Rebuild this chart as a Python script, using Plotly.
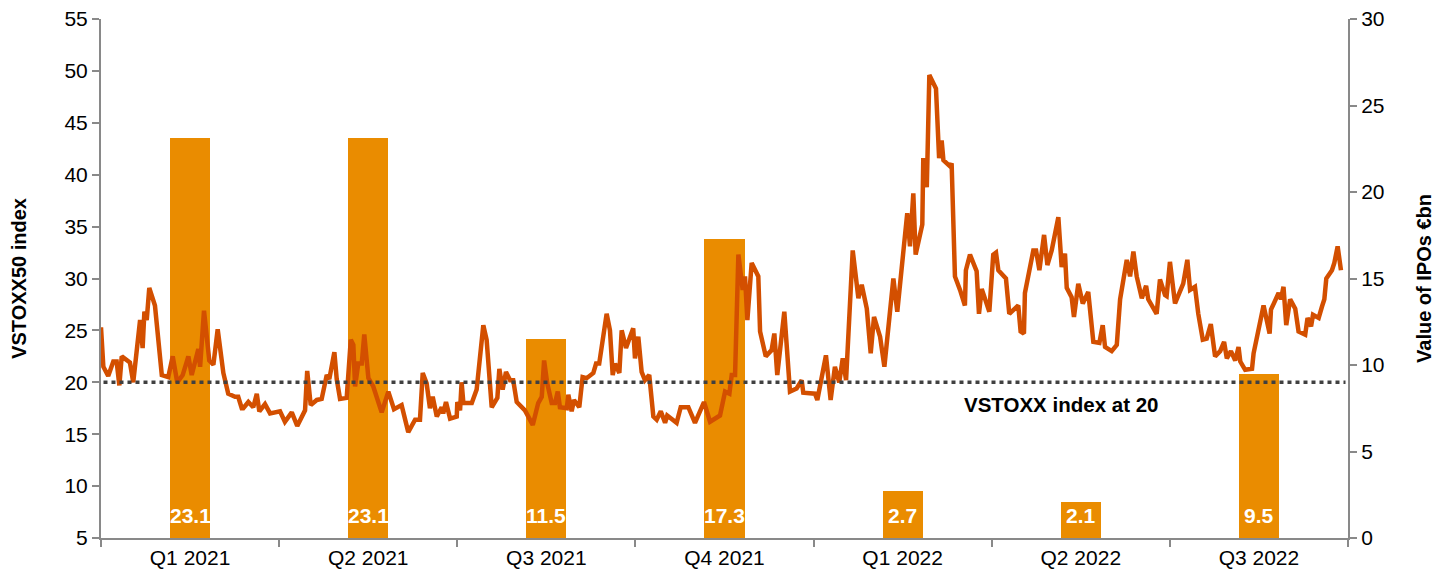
import pandas as pd
import plotly.graph_objects as go

# ---- data ----
quarters = ["Q1 2021", "Q2 2021", "Q3 2021", "Q4 2021", "Q1 2022", "Q2 2022", "Q3 2022"]
ipo_values = [23.1, 23.1, 11.5, 17.3, 2.7, 2.1, 9.5]

# VSTOXX50 observations: days since 2021-01-01 and index level
vstoxx_days = [
    0, 1.2, 3.7, 6.3, 8.0, 9.4, 10.6, 14.8, 16.5, 20.0, 21.3, 22.2, 23.4, 24.7, 27.6,
    30.2, 31.1, 34.4, 36.7, 39.0, 41.8, 44.7, 46.4, 49.8, 50.7, 52.7, 54.4, 55.4, 57.5,
    59.7, 62.6, 65.1, 68.6, 70.2, 72.0, 72.8, 75.4, 77.9, 79.7, 81.0, 83.9, 86.5, 91.6,
    94.1, 97.6, 100.4, 104.4, 105.5, 107.3, 110.4, 112.9, 115.5, 116.8, 119.4, 120.6,
    122.3, 125.7, 127.8, 129.1, 130.0, 131.6, 133.4, 134.7, 136.8, 139.3, 143.6, 147.0,
    149.9, 153.8, 157.2, 160.7, 163.2, 164.6, 166.6, 168.3, 169.7, 171.8, 174.3, 175.1,
    176.5, 178.6, 182.0, 182.3, 183.7, 184.5, 185.4, 189.7, 192.2, 195.6, 197.3, 199.9,
    202.8, 203.8, 205.5, 207.2, 209.3, 210.9, 212.7, 216.9, 220.9, 223.7, 225.5, 226.7,
    228.3, 230.6, 232.3, 233.7, 234.8, 238.3, 239.1, 240.8, 242.0, 244.7, 246.4, 248.5,
    251.9, 253.3, 254.9, 258.7, 260.4, 261.8, 263.0, 265.2, 266.4, 268.6, 272.3, 273.2,
    274.9, 276.6, 278.3, 280.5, 282.6, 284.3, 286.4, 288.6, 289.7, 294.5, 296.6, 300.5,
    303.9, 308.5, 311.6, 316.7, 319.3, 321.5, 322.7, 324.4, 326.1, 328.3, 329.5, 330.7,
    332.9, 336.3, 337.2, 340.1, 343.1, 344.5, 346.0, 349.6, 352.5, 355.9, 358.5, 359.3,
    362.7, 365.3, 366.5, 370.9, 373.3, 375.5, 377.7, 379.5, 381.2, 384.6, 387.5, 389.2,
    391.8, 393.8, 395.5, 398.6, 400.8, 405.4, 407.4, 410.2, 412.5, 413.9, 415.6, 416.8,
    420.2, 420.7, 422.5, 423.8, 427.2, 428.8, 430.1, 431.0, 434.4, 435.2, 436.9, 439.5,
    442.0, 442.5, 444.6, 448.0, 449.2, 450.6, 454.5, 456.5, 457.9, 459.1, 463.0, 464.7,
    469.3, 470.5, 472.2, 472.7, 474.4, 477.0, 478.4, 480.1, 482.5, 484.2, 486.4, 489.8,
    491.5, 493.2, 494.1, 496.6, 497.8, 500.0, 502.3, 505.1, 507.7, 510.8, 512.5, 513.7,
    517.1, 519.7, 521.4, 524.8, 526.5, 528.2, 529.9, 532.5, 534.7, 535.8, 540.1, 541.8,
    544.4, 545.2, 546.9, 549.5, 553.7, 555.8, 557.2, 559.7, 561.4, 563.7, 565.7, 567.8,
    570.0, 572.6, 574.6, 576.0, 578.1, 580.3, 582.0, 582.9, 585.4, 588.9, 589.7, 591.8,
    594.8, 597.9, 598.6, 602.5, 603.7, 605.0, 606.4, 608.4, 611.0, 612.7, 616.1, 617.3,
    619.1, 620.1, 623.0, 624.7, 625.9, 626.9, 629.8, 631.0, 632.7, 634.4,
]
vstoxx_values = [
    25.3, 21.5, 20.6, 22.0, 22.0, 19.7, 22.5, 21.9, 20.0, 26.0, 23.3, 26.8, 26.0, 29.1, 27.4,
    22.1, 20.7, 20.5, 22.5, 20.0, 20.7, 22.5, 20.7, 23.2, 21.5, 26.9, 24.1, 22.1, 21.7,
    25.1, 20.9, 18.9, 18.6, 18.6, 17.5, 17.5, 18.1, 17.6, 18.9, 17.2, 17.9, 17.0, 17.2,
    16.2, 17.1, 15.8, 17.3, 21.1, 17.8, 18.3, 18.4, 20.7, 20.3, 22.9, 20.3,
    18.4, 18.5, 24.1, 23.6, 19.6, 21.8, 21.8, 24.6, 20.4, 19.6, 17.1, 19.1,
    17.4, 17.8, 15.2, 16.4, 16.4, 20.9, 19.9, 17.5, 18.6, 16.7, 17.6, 17.0,
    18.1, 16.5, 16.7, 18.1, 17.3, 20.0, 18.0, 18.0, 19.3, 25.5, 24.1, 17.6,
    18.5, 21.3, 19.3, 21.0, 20.2, 20.2, 18.1, 17.3, 15.9, 18.0, 18.6, 22.1,
    19.9, 18.0, 18.0, 19.1, 17.6, 17.5, 18.8, 17.2, 18.3, 17.6, 20.5, 20.4,
    20.9, 21.8, 21.8, 26.6, 25.0, 20.7, 21.8, 20.9, 25.0, 23.3, 25.2, 22.3,
    24.4, 21.0, 20.2, 20.7, 16.7, 16.4, 17.2, 16.1, 16.8, 16.1, 17.6, 17.6,
    16.1, 18.1, 16.2, 16.8, 19.1, 18.9, 20.7, 20.7, 32.3, 28.9, 30.2, 26.0,
    31.5, 30.2, 24.9, 22.5, 23.1, 24.7, 20.7, 26.8, 19.1, 19.4, 20.2, 19.0,
    19.0, 18.9, 18.3, 22.6, 18.3, 21.5, 20.0, 22.3, 20.2, 32.7, 28.1, 29.4,
    27.1, 22.8, 26.3, 24.4, 21.5, 30.0, 26.8, 31.5, 36.3, 33.1, 38.2, 32.3,
    35.2, 41.6, 38.8, 49.6, 48.3, 41.6, 43.3, 41.4, 40.8, 41.1, 30.2, 28.9,
    27.4, 30.8, 32.3, 30.7, 26.6, 29.0, 26.8, 32.3, 32.5, 30.8, 30.0, 26.6,
    27.4, 24.9, 24.7, 28.6, 30.3, 32.7, 32.7, 30.8, 34.2, 31.3, 32.7, 35.9,
    31.1, 32.4, 29.1, 28.2, 26.3, 29.5, 27.6, 28.7, 23.9, 23.8, 25.5, 23.4,
    23.0, 23.6, 28.0, 31.8, 30.2, 32.6, 30.2, 28.1, 29.3, 28.0, 26.6, 29.9,
    28.4, 28.3, 31.6, 27.6, 29.5, 31.8, 28.9, 29.2, 26.6, 24.1, 24.2, 25.6,
    22.5, 23.0, 23.9, 22.3, 23.0, 22.1, 23.4, 22.0, 21.2, 21.3, 22.8, 24.7,
    27.4, 24.7, 27.0, 28.6, 28.0, 29.2, 25.5, 28.0, 27.1, 24.9, 24.6, 26.2,
    25.4, 26.5, 26.2, 27.3, 28.0, 30.0, 30.8, 31.5, 33.1, 30.8,
]
threshold = 20
threshold_label = "VSTOXX index at 20"

start = pd.Timestamp("2021-01-01")
end = pd.Timestamp("2022-10-01")
vstoxx_dates = start + pd.to_timedelta(vstoxx_days, unit="D")

FONT = "Arial, Liberation Sans, sans-serif"
BAR_COLOR = "#EA8C00"
LINE_COLOR = "#D34F00"
AXIS_COLOR = "#898989"
TICK_FONT = dict(family=FONT, size=21, color="black")
TITLE_FONT = dict(family=FONT, size=20, color="black", weight="bold")

fig = go.Figure()

fig.add_trace(go.Bar(
    x=quarters, y=ipo_values, width=0.225,
    marker=dict(color=BAR_COLOR, line=dict(width=0)),
    xaxis="x", yaxis="y", showlegend=False, hoverinfo="x+y",
))

fig.add_trace(go.Scatter(
    x=vstoxx_dates, y=vstoxx_values, mode="lines",
    line=dict(color=LINE_COLOR, width=4.5),
    xaxis="x2", yaxis="y2", showlegend=False,
))

# bar value labels (white, at the base of each bar)
for q, v in zip(quarters, ipo_values):
    fig.add_annotation(
        x=q, y=0, xref="x", yref="y", text=f"{v:.1f}", showarrow=False,
        xanchor="center", yanchor="bottom", yshift=9,
        font=dict(family=FONT, size=21, color="white", weight="bold"),
    )

fig.add_shape(
    type="line", xref="paper", yref="y2", x0=0.002, x1=0.998, y0=threshold, y1=threshold,
    line=dict(color="#404040", width=3.5, dash="4px,4px"), layer="above",
)
fig.add_annotation(
    xref="paper", yref="y2", x=0.77, y=17.9, text=threshold_label, showarrow=False,
    xanchor="center", yanchor="middle",
    font=dict(family=FONT, size=20.5, color="black", weight="bold"),
)

# the page body adds an 8px offset, so the figure is sized to fit inside it
fig.update_layout(
    width=1435, height=568,
    margin=dict(l=93, r=95, t=11, b=38, autoexpand=False),
    paper_bgcolor="white", plot_bgcolor="white",
    font=dict(family=FONT, size=20, color="black"),
    bargap=0,
    xaxis=dict(
        type="category", tickson="boundaries", ticks="outside", ticklen=7, tickwidth=2,
        tickcolor=AXIS_COLOR, showline=True, linecolor=AXIS_COLOR, linewidth=2,
        showgrid=False, zeroline=False, range=[-0.5, 6.5], automargin=False,
        tickfont=TICK_FONT,
    ),
    xaxis2=dict(
        type="date", overlaying="x", range=[start, end], visible=False, anchor="y2",
    ),
    yaxis=dict(
        side="right", range=[0, 30], dtick=5, ticks="outside", ticklen=7, tickwidth=2,
        tickcolor=AXIS_COLOR, showline=True, linecolor=AXIS_COLOR, linewidth=2,
        showgrid=False, zeroline=False, automargin=False, ticklabeloverflow="allow",
        tickfont=TICK_FONT,
        title=dict(text="Value of IPOs €bn", standoff=33, font=TITLE_FONT),
    ),
    yaxis2=dict(
        side="left", overlaying="y", range=[5, 55], dtick=5, ticks="outside", ticklen=7,
        tickwidth=2, tickcolor=AXIS_COLOR, showline=True, linecolor=AXIS_COLOR, linewidth=2,
        showgrid=False, zeroline=False, anchor="x", automargin=False,
        ticklabeloverflow="allow",
        tickfont=TICK_FONT,
        title=dict(text="VSTOXX50 index", standoff=35, font=TITLE_FONT),
    ),
)

fig.write_html("out.html")
